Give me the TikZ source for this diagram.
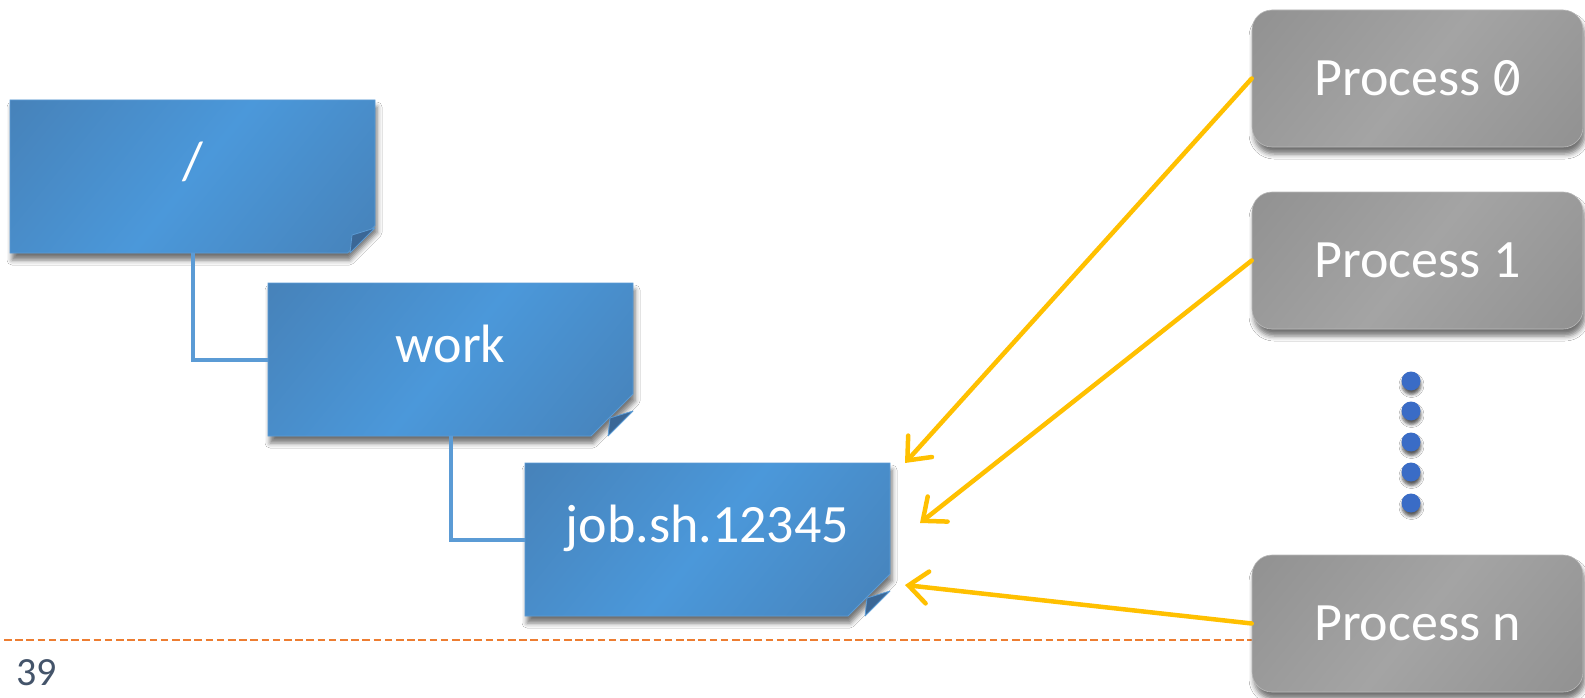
\documentclass[tikz,border=0pt]{standalone}
\usepackage{fontspec}
\usepackage{graphicx}
\setmainfont{Carlito}
\usetikzlibrary{shapes.misc,shadows,shadows.blur,calc,arrows.meta}

\definecolor{bluedark}{HTML}{4475A6}
\definecolor{bluelight}{HTML}{4B98DA}
\definecolor{blueedge}{HTML}{5B9BD5}
\definecolor{folddark}{HTML}{3B6796}
\definecolor{graydark}{HTML}{838383}
\definecolor{graylight}{HTML}{A4A4A4}
\definecolor{arrowgold}{HTML}{FFC000}
\definecolor{rulecolor}{HTML}{ED7D31}
\definecolor{pagenum}{HTML}{44546A}
\definecolor{dotblue}{HTML}{3A6CC6}

% soft diagonal sheen: dark edges, light middle
\pgfdeclareverticalshading{bluesheen}{100bp}{color(0bp)=(bluedark); color(12bp)=(bluedark);
  color(50bp)=(bluelight); color(88bp)=(bluedark); color(100bp)=(bluedark)}
\pgfdeclareverticalshading{graysheen}{100bp}{color(0bp)=(graydark); color(12bp)=(graydark);
  color(50bp)=(graylight); color(88bp)=(graydark); color(100bp)=(graydark)}

% slashed zero built from a digit and a shortened slash
\newcommand\slashedzero{\ooalign{0\cr\hidewidth\raisebox{6pt}{\scalebox{0.72}[0.6]{/}}\hidewidth\cr}}

% folded corner on a directory note
\newcommand\dogear[1]{%
  \filldraw[fill=folddark, draw=blueedge, line width=0.8pt, line join=round]
    ($(#1.center)+(182.5,51.5)$) -- ($(#1.center)+(159.5,58.5)$)
    -- ($(#1.center)+(157.5,76.5)$) -- cycle;}

\begin{document}
\begin{tikzpicture}[x=1pt,y=-1pt,
  diagshade/.style={path picture={
    \shade[shading=#1,shading angle=51]
      ($(path picture bounding box.center)+(-200,-200)$) rectangle ++(400,400);}},
  softshadow/.style={blur shadow={shadow xshift=2pt, shadow yshift=-7pt,
    shadow blur radius=5pt, shadow opacity=55}},
  dirbox/.style={chamfered rectangle, chamfered rectangle corners=south east,
    chamfered rectangle xsep=25pt, chamfered rectangle ysep=25pt,
    minimum width=365pt, minimum height=153pt, inner sep=0pt,
    draw=blueedge, line width=0.8pt, diagshade=bluesheen, softshadow,
    text=white, font=\fontsize{54}{60}\selectfont, text height=20pt, text depth=14pt},
  procbox/.style={rectangle, rounded corners=20pt,
    minimum width=331pt, minimum height=137pt, inner sep=0pt,
    draw=gray!55, line width=0.6pt, diagshade=graysheen, softshadow,
    text=white, font=\fontsize{54}{60}\selectfont},
  dotmark/.style={circle, fill=dotblue, minimum size=19pt, inner sep=0pt,
    blur shadow={shadow xshift=0.5pt, shadow yshift=-4pt,
      shadow blur radius=3pt, shadow opacity=65}},
  tree/.style={draw=blueedge, line width=4pt},
  feed/.style={draw=arrowgold, line width=4.5pt, line cap=round,
    -{Straight Barb[length=19pt,width=32pt,line cap=round]}},
  pagerule/.style={draw=rulecolor, line width=2pt, dash pattern=on 7.5pt off 3.7pt},
]
\useasboundingbox (0,0) rectangle (1585,698);
\fill[white] (0,0) rectangle (1585,698);

% footer rule and page number
\coordinate (ruleL) at (4,640);
\coordinate (ruleR) at (1252,640);
\draw[pagerule] (ruleL) -- (ruleR);
\node[font=\fontsize{40}{44}\selectfont, text=pagenum, anchor=base west, inner sep=0pt]
  (pgnum) at (16,685) {39};

% directory tree
\node[dirbox] (root) at (192.5,176.5) {/};
\node[dirbox] (work) at (450.5,359.5) {work};
\node[dirbox] (job) at (707.5,539.5) {job.sh.12345};
\dogear{root}
\dogear{work}
\dogear{job}
\draw[tree] (root.south) |- (work.west);
\draw[tree] (work.south) |- (job.west);

% processes
\node[procbox] (p0) at (1417.5,78.5) {Process \slashedzero};
\node[procbox] (p1) at (1417.5,260.5) {Process 1};
\node[procbox] (pn) at (1417.5,623.5) {Process n};
\foreach \yy [count=\i] in {381,411,442,472,503}
  \node[dotmark] (dot\i) at (1411,\yy) {};

% processes writing into the job directory
\coordinate (tip0) at (905,463);
\coordinate (tip1) at (920,523);
\coordinate (tipn) at (905,585);
\draw[feed] (p0.west) -- (tip0);
\draw[feed] (p1.west) -- (tip1);
\draw[feed] (pn.west) -- (tipn);
\end{tikzpicture}
\end{document}
